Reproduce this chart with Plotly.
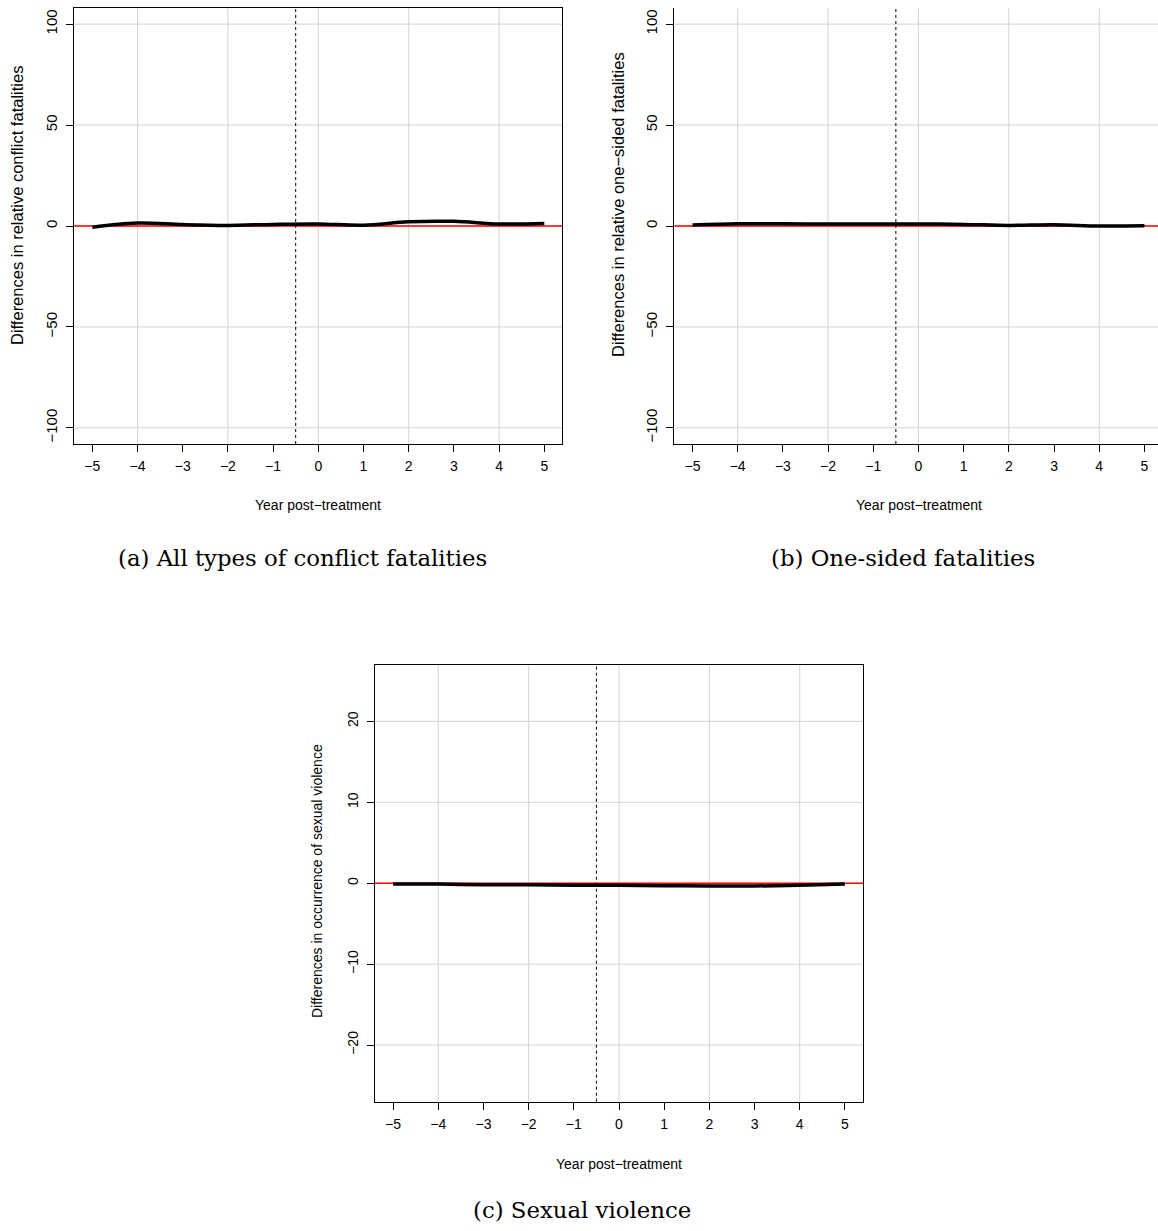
import plotly.graph_objects as go

W, H = 1158, 1231

years = [-5, -4, -3, -2, -1, 0, 1, 2, 3, 4, 5]
conflict_fatal = [-0.6, 1.5, 0.7, 0.3, 0.8, 1.0, 0.4, 2.1, 2.3, 1.0, 1.2]
onesided_fatal = [0.5, 1.1, 1.1, 1.0, 1.0, 1.0, 0.8, 0.3, 0.6, 0.0, 0.1]
sexual_viol = [-0.1, -0.1, -0.2, -0.2, -0.25, -0.25, -0.3, -0.35, -0.35, -0.25, -0.1]

x_ticks = years
x_grid = [-4, -2, 0, 2, 4]
y_ticks_ab = [-100, -50, 0, 50, 100]
y_ticks_c = [-20, -10, 0, 10, 20]
treat_line = -0.5

ylab_a = "Differences in relative conflict fatalities"
ylab_b = "Differences in relative one\u2212sided fatalities"
ylab_c = "Differences in occurrence of sexual violence"
xlab = "Year post\u2212treatment"
captions = ["(a) All types of conflict fatalities", "(b) One-sided fatalities", "(c) Sexual violence"]

def px_x(p):
    return p / W

def px_y(p):
    return 1 - p / H

SANS = "Liberation Sans, Arial, sans-serif"

panels = [
    dict(name="", data=conflict_fatal, xdom=[px_x(74.2), px_x(562.4)], ydom=[px_y(444), px_y(8)],
         xr=[-5.4, 5.4], yr=[-108, 108], yt=y_ticks_ab, mirror=True, ysize=15),
    dict(name="2", data=onesided_fatal, xdom=[px_x(674.4), 1.0], ydom=[px_y(444), px_y(8)],
         xr=[-5.4, 5.30], yr=[-108, 108], yt=y_ticks_ab, mirror=False, ysize=15),
    dict(name="3", data=sexual_viol, xdom=[px_x(375), px_x(863)], ydom=[px_y(1101.7), px_y(664.7)],
         xr=[-5.4, 5.4], yr=[-27, 27], yt=y_ticks_c, mirror=True, ysize=14),
]

fig = go.Figure()
shapes = []

for p in panels:
    n = p["name"]
    xa, ya = "x" + n, "y" + n
    fig.add_trace(go.Scatter(x=years, y=p["data"], mode="lines", xaxis=xa, yaxis=ya,
                             line=dict(color="black", width=3.5, shape="spline", smoothing=1.0),
                             showlegend=False, hoverinfo="skip"))
    for g in x_grid:
        shapes.append(dict(type="line", xref=xa, yref=ya + " domain", x0=g, x1=g, y0=0, y1=1,
                           line=dict(color="#d3d3d3", width=1), layer="below"))
    for g in p["yt"]:
        shapes.append(dict(type="line", xref=xa + " domain", yref=ya, x0=0, x1=1, y0=g, y1=g,
                           line=dict(color="#d3d3d3", width=1), layer="below"))
    shapes.append(dict(type="line", xref=xa + " domain", yref=ya, x0=0, x1=1, y0=0, y1=0,
                       line=dict(color="red", width=1.5), layer="below"))
    shapes.append(dict(type="line", xref=xa, yref=ya + " domain", x0=treat_line, x1=treat_line, y0=0, y1=1,
                       line=dict(color="black", width=1, dash="3px,3px"), layer="below"))

    fig.layout["xaxis" + n] = dict(domain=p["xdom"], range=p["xr"], anchor=ya, tickvals=x_ticks,
                                   ticks="outside", ticklen=7, tickcolor="black", showgrid=False,
                                   zeroline=False, showline=True, linecolor="black", linewidth=1,
                                   mirror=p["mirror"], tickfont=dict(family=SANS, size=14, color="black"),
                                   ticklabelstandoff=2)
    fig.layout["yaxis" + n] = dict(domain=p["ydom"], range=p["yr"], anchor=xa, tickvals=p["yt"],
                                   ticks="outside", ticklen=7, tickcolor="black", showgrid=False,
                                   zeroline=False, showline=True, linecolor="black", linewidth=1,
                                   mirror=True if p["mirror"] else False, tickangle=-90,
                                   tickfont=dict(family=SANS, size=p["ysize"], color="black"),
                                   ticklabelstandoff=3)

fig.update_layout(shapes=shapes)

labfont = dict(family=SANS, size=14, color="black")
labfont_ab = dict(family=SANS, size=16.5, color="black")
capfont = dict(family="DejaVu Serif, serif", size=22.8, color="black")
ann = []
ann.append(dict(text=ylab_a, x=px_x(17), y=px_y(206), textangle=-90, font=labfont_ab))
ann.append(dict(text=ylab_b, x=px_x(618), y=px_y(205), textangle=-90, font=labfont_ab))
ann.append(dict(text=ylab_c, x=px_x(317), y=px_y(881), textangle=-90, font=labfont))
ann.append(dict(text=xlab, x=px_x(318.3), y=px_y(505), font=labfont))
ann.append(dict(text=xlab, x=px_x(918.5), y=px_y(505), font=labfont))
ann.append(dict(text=xlab, x=px_x(619), y=px_y(1164), font=labfont))
ann.append(dict(text=captions[0], x=px_x(302), y=px_y(558), font=capfont))
ann.append(dict(text=captions[1], x=px_x(903), y=px_y(558), font=capfont))
ann.append(dict(text=captions[2], x=px_x(582), y=px_y(1210), font=capfont))
for a in ann:
    a.update(xref="paper", yref="paper", showarrow=False, xanchor="center", yanchor="middle")
fig.update_layout(annotations=ann)

fig.update_layout(width=W, height=H, margin=dict(l=0, r=0, t=0, b=0),
                  paper_bgcolor="white", plot_bgcolor="white")

fig.write_html("out.html")
